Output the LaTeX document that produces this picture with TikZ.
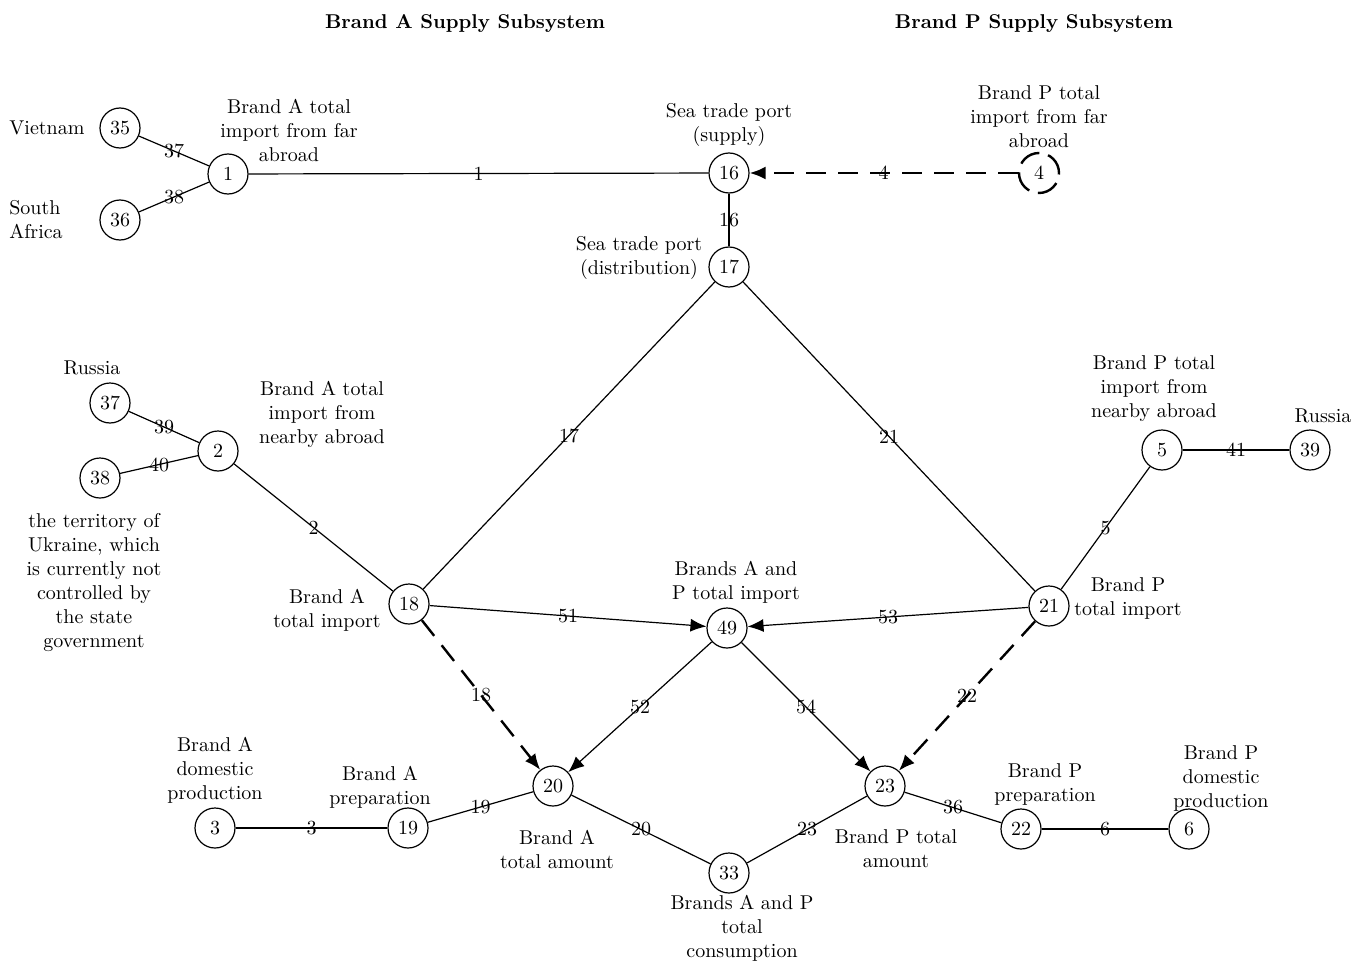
\documentclass[tikz,border=0pt]{standalone}
\usetikzlibrary{arrows.meta}
\begin{document}
\begin{tikzpicture}[x=0.5pt, y=-0.5pt, line width=0.6pt,
  every node/.style={font=\normalsize},
  st/.style={circle, draw, minimum size=20pt, inner sep=0pt, fill=white},
  stdash/.style={st, line width=1.2pt, dash pattern=on 11pt off 4.5pt},
  txt/.style={align=center},
  lbl/.style={midway, inner sep=1pt},
  arr/.style={-{Latex[length=8pt,width=6.5pt]}},
  dsh/.style={line width=1.2pt, dash pattern=on 10pt off 6pt}]
  \useasboundingbox (0,0) rectangle (1365,963);
  % titles
  \node[font=\bfseries] at (465,24) {Brand A Supply Subsystem};
  \node[font=\bfseries] at (1034,24) {Brand P Supply Subsystem};
  % states
  \node[st] (n35) at (120,128) {35};
  \node[st] (n36) at (120,220) {36};
  \node[st] (n1) at (228,174) {1};
  \node[st] (n16) at (729,173) {16};
  \node[stdash] (n4) at (1039,173) {4};
  \node[st] (n17) at (729,267) {17};
  \node[st] (n37) at (110,403) {37};
  \node[st] (n38) at (100,478) {38};
  \node[st] (n2) at (218,451) {2};
  \node[st] (n18) at (409,604) {18};
  \node[st] (n49) at (727,628) {49};
  \node[st] (n21) at (1049,606) {21};
  \node[st] (n5) at (1162,450) {5};
  \node[st] (n39) at (1310,450) {39};
  \node[st] (n20) at (553,786) {20};
  \node[st] (n23) at (885,786) {23};
  \node[st] (n3) at (215,828) {3};
  \node[st] (n19) at (408,828) {19};
  \node[st] (n33) at (729,873) {33};
  \node[st] (n22) at (1021,829) {22};
  \node[st] (n6) at (1189,829) {6};
  % descriptions
  \node[txt] (tviet) at (47,128) {Vietnam};
  \node[txt, align=left] (tsaf) at (36,220) {South\\Africa};
  \node[txt] (t1) at (289,130) {Brand A total\\import from far\\abroad};
  \node[txt] (t16) at (729,125) {Sea trade port\\(supply)};
  \node[txt] (t4) at (1039,117) {Brand P total\\import from far\\abroad};
  \node[txt] (t17) at (639,258) {Sea trade port\\(distribution)};
  \node[txt] (trusa) at (92,368) {Russia};
  \node[txt] (t2) at (322,414) {Brand A total\\import from\\nearby abroad};
  \node[txt] (tukr) at (94,583) {the territory of\\Ukraine, which\\is currently not\\controlled by\\the state\\government};
  \node[txt] (t18) at (327,610) {Brand A\\total import};
  \node[txt] (t49) at (736,582) {Brands A and\\P total import};
  \node[txt] (t5) at (1154,389) {Brand P total\\import from\\nearby abroad};
  \node[txt] (trusp) at (1323,416) {Russia};
  \node[txt] (t21) at (1128,598) {Brand P\\total import};
  \node[txt] (t3) at (215,770) {Brand A\\domestic\\production};
  \node[txt] (t19) at (380,787) {Brand A\\preparation};
  \node[txt] (t20) at (557,849) {Brand A\\total amount};
  \node[txt] (t23) at (896,849) {Brand P total\\amount};
  \node[txt] (t33) at (742,928) {Brands A and P\\total\\consumption};
  \node[txt] (t22) at (1045,784) {Brand P\\preparation};
  \node[txt] (t6) at (1221,778) {Brand P\\domestic\\production};
  % flows
  \draw (n35) -- node[lbl] {37} (n1);
  \draw (n36) -- node[lbl] {38} (n1);
  \draw (n1) -- node[lbl] {1} (n16);
  \draw[dsh, arr] (n4) -- node[lbl] {4} (n16);
  \draw (n16) -- node[lbl] {16} (n17);
  \draw (n37) -- node[lbl] {39} (n2);
  \draw (n38) -- node[lbl] {40} (n2);
  \draw (n2) -- node[lbl] {2} (n18);
  \draw (n17) -- node[lbl] {17} (n18);
  \draw (n17) -- node[lbl] {21} (n21);
  \draw (n5) -- node[lbl] {5} (n21);
  \draw (n5) -- node[lbl] {41} (n39);
  \draw[arr] (n18) -- node[lbl] {51} (n49);
  \draw[arr] (n21) -- node[lbl] {53} (n49);
  \draw[dsh, arr] (n18) -- node[lbl] {18} (n20);
  \draw[arr] (n49) -- node[lbl] {52} (n20);
  \draw[arr] (n49) -- node[lbl] {54} (n23);
  \draw[dsh, arr] (n21) -- node[lbl] {22} (n23);
  \draw (n3) -- node[lbl] {3} (n19);
  \draw (n19) -- node[lbl] {19} (n20);
  \draw (n20) -- node[lbl] {20} (n33);
  \draw (n33) -- node[lbl] {23} (n23);
  \draw (n23) -- node[lbl] {36} (n22);
  \draw (n22) -- node[lbl] {6} (n6);
\end{tikzpicture}
\end{document}
